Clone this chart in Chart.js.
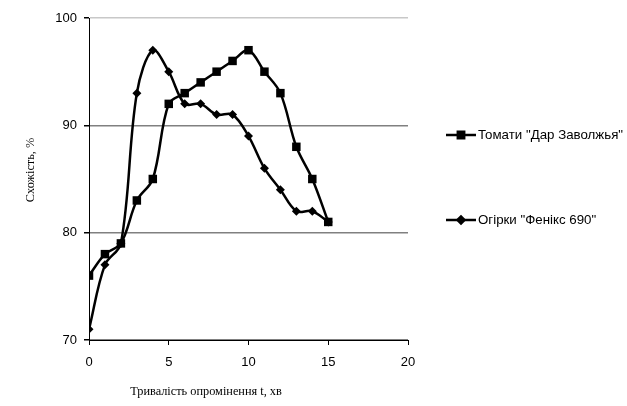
<!DOCTYPE html>
<html>
<head>
<meta charset="utf-8">
<script src="https://cdn.jsdelivr.net/npm/chart.js@4/dist/chart.umd.min.js"></script>
<style>
  html, body { margin: 0; padding: 0; background: #fff; }
  #wrap { width: 627px; height: 406px; }
</style>
</head>
<body>
<div id="wrap"><canvas id="chart" width="627" height="406"></canvas></div>
<script>
const minutes = [0, 1, 2, 3, 4, 5, 6, 7, 8, 9, 10, 11, 12, 13, 14, 15]
const tomatoes = [76, 78, 79, 83, 85, 92, 93, 94, 95, 96, 97, 95, 93, 88, 85, 81]
const cucumbers = [71, 77, 79, 93, 97, 95, 92, 92, 91, 91, 89, 86, 84, 82, 82, 81]
const seriesNames = ['Томати "Дар Заволжья"', 'Огірки "Фенікс 690"']
const xTitle = 'Тривалість опромінення t, хв'
const yTitle = 'Схожість, %'

const toPoints = (ys) => minutes.map((x, i) => ({ x, y: ys[i] }))

// legend + axis titles drawn by hand, Excel-style placement
const extras = {
  id: 'extras',
  afterDraw(chart) {
    const ctx = chart.ctx
    ctx.save()
    ctx.fillStyle = '#000'
    ctx.font = '12.3px "Liberation Serif", "Times New Roman", serif'
    ctx.textAlign = 'center'
    ctx.textBaseline = 'middle'
    ctx.fillText(xTitle, 206, 392)
    ctx.translate(31, 170)
    ctx.rotate(-Math.PI / 2)
    ctx.fillText(yTitle, 0, 0)
    ctx.restore()

    const rows = [135, 220]
    chart.data.datasets.forEach((ds, i) => {
      const y = rows[i]
      ctx.save()
      ctx.strokeStyle = '#000'
      ctx.lineWidth = 2.5
      ctx.beginPath()
      ctx.moveTo(446, y)
      ctx.lineTo(476, y)
      ctx.stroke()
      Chart.helpers.drawPoint(ctx, {
        pointStyle: ds.pointStyle,
        radius: i === 0 ? 4.5 : 3.5,
        rotation: 0,
        borderWidth: 1
      }, 461, y)
      ctx.fillStyle = '#000'
      ctx.fill()
      ctx.font = '13.3px "Liberation Sans", Arial, sans-serif'
      ctx.textAlign = 'left'
      ctx.textBaseline = 'middle'
      ctx.fillText(ds.label, 478, y)
      ctx.restore()
    })
  }
}

new Chart('chart', {
  type: 'line',
  data: {
    datasets: [
      {
        label: seriesNames[0],
        data: toPoints(tomatoes),
        borderColor: '#000',
        backgroundColor: '#000',
        borderWidth: 2.5,
        tension: 0.35,
        pointStyle: 'rect',
        pointRadius: 6,
        pointBorderWidth: 0,
      },
      {
        label: seriesNames[1],
        data: toPoints(cucumbers),
        borderColor: '#000',
        backgroundColor: '#000',
        borderWidth: 2.5,
        tension: 0.35,
        pointStyle: 'rectRot',
        pointRadius: 4.5,
        pointBorderWidth: 0,
      },
    ],
  },
  options: {
    responsive: false,
    animation: false,
    devicePixelRatio: 1,
    layout: { padding: { top: 18, right: 219, left: 0, bottom: 0 } },
    plugins: {
      legend: { display: false },
      tooltip: { enabled: false },
    },
    scales: {
      x: {
        type: 'linear',
        min: 0,
        max: 20,
        ticks: {
          stepSize: 5,
          color: '#000',
          padding: 10,
          font: { family: '"Liberation Sans", Arial, sans-serif', size: 13 },
        },
        grid: {
          drawOnChartArea: false,
          tickLength: 5,
          tickColor: '#000',
        },
        border: { color: '#000', width: 1 },
        afterFit: (s) => { s.height = 66 },
      },
      y: {
        min: 70,
        max: 100,
        ticks: {
          stepSize: 10,
          color: '#000',
          padding: 7,
          font: { family: '"Liberation Sans", Arial, sans-serif', size: 13 },
        },
        grid: {
          color: (c) => (c.tick && c.tick.value === 100 ? '#c8c8c8' : '#808080'),
          lineWidth: 1.5,
          tickLength: 5,
          tickColor: '#000',
        },
        border: { color: '#000', width: 1 },
        afterFit: (s) => { s.width = 89 },
      },
    },
  },
  plugins: [extras],
})
</script>
</body>
</html>
